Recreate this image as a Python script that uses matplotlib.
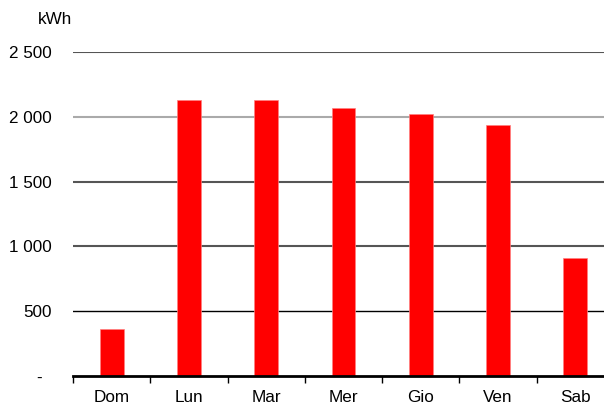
import numpy as np
import matplotlib.pyplot as plt

# daily energy consumption
days = ['Dom', 'Lun', 'Mar', 'Mer', 'Gio', 'Ven', 'Sab']
kwh = [360, 2130, 2127, 2070, 2022, 1934, 913]

yticks = [0, 500, 1000, 1500, 2000, 2500]
ytick_labels = ['-  ', '500', '1 000', '1 500', '2 000', '2 500']
grid_colors = ['black', 'black', '#555555', '#555555', '#aaaaaa', '#555555']
grid_widths = [1.0, 1.0, 1.5, 1.5, 1.5, 1.5]

plt.rcParams['font.family'] = ['Liberation Sans', 'DejaVu Sans']
plt.rc('font', size=12.3)

fig = plt.figure(figsize=(6.04, 4.09), dpi=100)
# axes runs slightly past the right edge, as in the original
ax = fig.add_axes([73 / 604, 1 - 376 / 409, 541 / 604, 324 / 409])

x = np.arange(len(days)) + 0.5
ax.bar(x, kwh, 0.31, color='#ff0000', edgecolor='#ff8080', linewidth=0.5, zorder=3)

ax.set_xlim(0, len(days))
ax.set_ylim(0, 2500)

for val, col, lw in zip(yticks[1:], grid_colors[1:], grid_widths[1:]):
    ax.axhline(val, color=col, linewidth=lw, zorder=1)

ax.set_yticks(yticks)
ax.set_yticklabels(ytick_labels)
ax.tick_params(axis='y', length=0, pad=15)

ax.set_xticks(x)
ax.set_xticklabels(days)
ax.set_xticks(np.arange(len(days) + 1), minor=True)
ax.tick_params(axis='x', which='major', length=0, pad=10)
ax.tick_params(axis='x', which='minor', length=5, width=1, color='black', direction='out')

for side in ['left', 'right', 'top']:
    ax.spines[side].set_visible(False)
ax.spines['bottom'].set_linewidth(2)
ax.spines['bottom'].set_zorder(4)

fig.text(55 / 604, 1 - 20 / 409, 'kWh', ha='center', va='center')

fig.savefig('out.png', dpi=100)
